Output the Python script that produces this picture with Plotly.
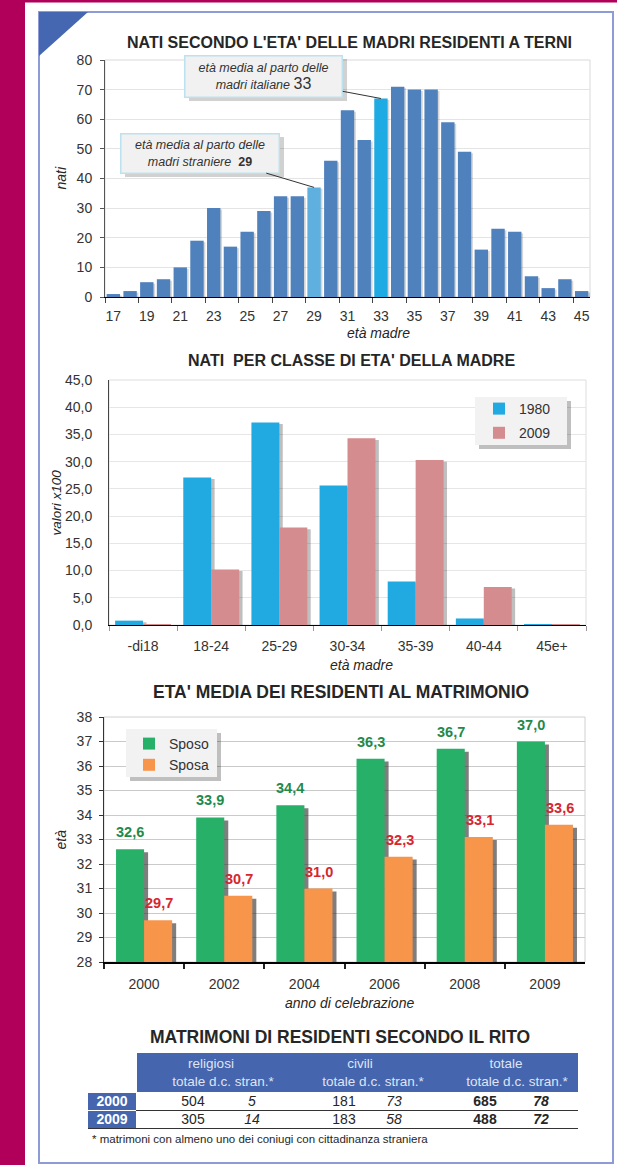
import plotly.graph_objects as go

W, H = 617, 1165
FONT = 'Arial, "Liberation Sans", sans-serif'

# ---------------- data ----------------
eta = list(range(17, 46))
nati = [1, 2, 5, 6, 10, 19, 30, 17, 22, 29, 34, 34, 37, 46, 63, 53, 67, 71, 70, 70,
        59, 49, 16, 23, 22, 7, 3, 6, 2]
eta_media_italiane = 33
eta_media_straniere = 29

classi = ["-di18", "18-24", "25-29", "30-34", "35-39", "40-44", "45e+"]
val_1980 = [0.8, 27.1, 37.2, 25.6, 8.0, 1.2, 0.1]
val_2009 = [0.1, 10.2, 17.9, 34.3, 30.3, 7.0, 0.1]

anni = ["2000", "2002", "2004", "2006", "2008", "2009"]
sposo = [32.6, 33.9, 34.4, 36.3, 36.7, 37.0]
sposa = [29.7, 30.7, 31.0, 32.3, 33.1, 33.6]

tab_gruppi = ["religiosi", "civili", "totale"]
tab_sub = ["totale", "d.c. stran.*"]
tab_anni = ["2000", "2009"]
rel_tot = [504, 305]
rel_str = [5, 14]
civ_tot = [181, 183]
civ_str = [73, 58]
tot_tot = [685, 488]
tot_str = [78, 72]

# ---------------- helpers ----------------
def px(x):
    return x / W


def py(y):
    return 1 - y / H


def fmt(v):
    return f"{v:.1f}".replace(".", ",")


fig = go.Figure()

# ---------------- chart 1 ----------------
c_main, c_str, c_ita = "#4f81bd", "#5fb0de", "#1eaae2"
cols1 = [c_ita if a == eta_media_italiane else c_str if a == eta_media_straniere else c_main for a in eta]
fig.add_trace(go.Bar(x=eta, y=[v - 0.5 for v in nati], width=0.8, offset=-0.3,
                     marker=dict(color="rgba(0,0,0,0.16)", line=dict(width=0)),
                     showlegend=False, hoverinfo="skip", xaxis="x", yaxis="y"))
fig.add_trace(go.Bar(x=eta, y=nati, width=0.8, offset=-0.4,
                     marker=dict(color=cols1, line=dict(width=0)),
                     showlegend=False, xaxis="x", yaxis="y"))

# ---------------- chart 2 ----------------
fig.add_trace(go.Bar(x=classi, y=[v - 0.3 for v in val_1980], width=0.41, offset=-0.36,
                     marker=dict(color="rgba(0,0,0,0.25)", line=dict(width=0)),
                     showlegend=False, hoverinfo="skip", xaxis="x2", yaxis="y2"))
fig.add_trace(go.Bar(x=classi, y=[v - 0.3 for v in val_2009], width=0.41, offset=0.05,
                     marker=dict(color="rgba(0,0,0,0.25)", line=dict(width=0)),
                     showlegend=False, hoverinfo="skip", xaxis="x2", yaxis="y2"))
fig.add_trace(go.Bar(x=classi, y=val_1980, width=0.41, offset=-0.41, name="1980",
                     marker=dict(color="#21a9e1", line=dict(width=0)),
                     legend="legend", legendgroup="a", xaxis="x2", yaxis="y2"))
fig.add_trace(go.Bar(x=classi, y=val_2009, width=0.41, offset=0.0, name="2009",
                     marker=dict(color="#d48c8e", line=dict(width=0)),
                     legend="legend", legendgroup="b", xaxis="x2", yaxis="y2"))

# ---------------- chart 3 ----------------
fig.add_trace(go.Bar(x=anni, y=[v - 0.12 for v in sposo], width=0.35, offset=-0.30,
                     marker=dict(color="rgba(40,40,40,0.6)", line=dict(width=0)),
                     showlegend=False, hoverinfo="skip", xaxis="x3", yaxis="y3"))
fig.add_trace(go.Bar(x=anni, y=[v - 0.12 for v in sposa], width=0.35, offset=0.05,
                     marker=dict(color="rgba(40,40,40,0.6)", line=dict(width=0)),
                     showlegend=False, hoverinfo="skip", xaxis="x3", yaxis="y3"))
fig.add_trace(go.Bar(x=anni, y=sposo, width=0.35, offset=-0.35, name="Sposo",
                     marker=dict(color="#27b168", line=dict(width=0)),
                     legend="legend2", legendgroup="c", xaxis="x3", yaxis="y3"))
fig.add_trace(go.Bar(x=anni, y=sposa, width=0.35, offset=0.0, name="Sposa",
                     marker=dict(color="#f7954b", line=dict(width=0)),
                     legend="legend2", legendgroup="d", xaxis="x3", yaxis="y3"))

# ---------------- table (hidden axis in pixel units) ----------------
GROUP_X = [211, 360, 506]
SUB_X = [223, 373, 517]
CELL_X = [193, 252, 344, 394, 485, 541]
ROW_Y = [1102, 1120]
LABEL_X = 112
GROUP_Y, SUB_Y = 1065, 1083

fig.add_trace(go.Scatter(x=GROUP_X, y=[GROUP_Y] * 3, text=tab_gruppi, mode="text",
                         textfont=dict(family=FONT, size=13.5, color="#dfe4f5"),
                         showlegend=False, xaxis="x4", yaxis="y4"))
fig.add_trace(go.Scatter(x=SUB_X, y=[SUB_Y] * 3, text=[" ".join(tab_sub)] * 3, mode="text",
                         textfont=dict(family=FONT, size=13.5, color="#dfe4f5"),
                         showlegend=False, xaxis="x4", yaxis="y4"))
fig.add_trace(go.Scatter(x=[LABEL_X] * 2, y=ROW_Y, text=[f"<b>{a}</b>" for a in tab_anni], mode="text",
                         textfont=dict(family=FONT, size=14, color="white"),
                         showlegend=False, xaxis="x4", yaxis="y4"))
cell_x, cell_y, cell_t = [], [], []
for r in range(2):
    vals = [str(rel_tot[r]), f"<i>{rel_str[r]}</i>", str(civ_tot[r]), f"<i>{civ_str[r]}</i>",
            f"<b>{tot_tot[r]}</b>", f"<b><i>{tot_str[r]}</i></b>"]
    for c, t in enumerate(vals):
        cell_x.append(CELL_X[c])
        cell_y.append(ROW_Y[r])
        cell_t.append(t)
fig.add_trace(go.Scatter(x=cell_x, y=cell_y, text=cell_t, mode="text",
                         textfont=dict(family=FONT, size=14, color="#262626"),
                         showlegend=False, xaxis="x4", yaxis="y4"))

# ---------------- shapes ----------------
shapes = []
# page decoration
shapes.append(dict(type="rect", xref="paper", yref="paper", x0=px(0), x1=px(25), y0=py(H), y1=py(0),
                   fillcolor="#b0005a", line=dict(width=0), layer="below"))
shapes.append(dict(type="rect", xref="paper", yref="paper", x0=px(0), x1=px(W), y0=py(2.5), y1=py(0),
                   fillcolor="#b0005a", line=dict(width=0), layer="below"))
shapes.append(dict(type="rect", xref="paper", yref="paper", x0=px(39), x1=px(613), y0=py(1163), y1=py(12),
                   line=dict(color="#8f9bd6", width=2), layer="below"))
shapes.append(dict(type="path", xref="paper", yref="paper",
                   path=f"M {px(39)},{py(12)} L {px(88)},{py(12)} L {px(39)},{py(56)} Z",
                   fillcolor="#4566b0", line=dict(width=0), layer="below"))
# plot borders
for ax, col in [("", "#d9d9d9"), ("2", "#dedede"), ("3", "#d0d0d0")]:
    shapes.append(dict(type="rect", xref=f"x{ax} domain", yref=f"y{ax} domain", x0=0, x1=1, y0=0, y1=1,
                       line=dict(color=col, width=1), layer="below"))
# annotation box shadows (chart 1)
for (x0, y0, x1, y1) in [(185, 55, 343, 97), (121, 133, 280, 173)]:
    shapes.append(dict(type="rect", xref="paper", yref="paper", x0=px(x0 + 4), x1=px(x1 + 4),
                       y0=py(y1 + 4), y1=py(y0 + 4), fillcolor="rgba(0,0,0,0.18)", line=dict(width=0),
                       layer="above"))
# legend boxes with shadows
for (x0, y0, x1, y1) in [(475, 397, 567, 445), (126, 729, 217, 777)]:
    shapes.append(dict(type="rect", xref="paper", yref="paper", x0=px(x0 + 4), x1=px(x1 + 4),
                       y0=py(y1 + 4), y1=py(y0 + 4), fillcolor="rgba(0,0,0,0.25)", line=dict(width=0),
                       layer="above"))
    shapes.append(dict(type="rect", xref="paper", yref="paper", x0=px(x0), x1=px(x1),
                       y0=py(y1), y1=py(y0), fillcolor="#f2f2f3", line=dict(width=0),
                       layer="above"))
# table shapes
shapes.append(dict(type="rect", xref="x4", yref="y4", x0=137, x1=578, y0=1053, y1=1092,
                   fillcolor="#4565ae", line=dict(width=0), layer="below"))
for (a, b) in [(1093, 1110), (1111, 1128)]:
    shapes.append(dict(type="rect", xref="x4", yref="y4", x0=88, x1=136, y0=a, y1=b,
                       fillcolor="#4565ae", line=dict(width=0), layer="below"))
shapes.append(dict(type="line", xref="x4", yref="y4", x0=136, x1=578, y0=1110.5, y1=1110.5,
                   line=dict(color="#333", width=1)))
shapes.append(dict(type="line", xref="x4", yref="y4", x0=88, x1=578, y0=1128.5, y1=1128.5,
                   line=dict(color="#333", width=1)))

# ---------------- annotations ----------------
ann = []
def title(text, x, y, size):
    ann.append(dict(text=f"<b>{text}</b>", x=px(x), y=py(y), xref="paper", yref="paper",
                    showarrow=False, xanchor="center", yanchor="middle",
                    font=dict(family=FONT, size=size, color="#262626")))

title("NATI SECONDO L'ETA' DELLE MADRI RESIDENTI A TERNI", 349, 43, 16)
title("NATI  PER CLASSE DI ETA' DELLA MADRE", 351, 360, 16)
title("ETA' MEDIA DEI RESIDENTI AL MATRIMONIO", 341, 692, 17.5)
title("MATRIMONI DI RESIDENTI SECONDO IL RITO", 340, 1037, 17.5)

def xtitle(text, ax, frac, shift, size=14):
    ann.append(dict(text=f"<i>{text}</i>", x=frac, y=0, xref=f"x{ax} domain", yref=f"y{ax} domain",
                    yshift=-shift, showarrow=False, xanchor="center", yanchor="middle",
                    font=dict(family=FONT, size=size, color="#262626")))

def ytitle(text, ax, shift, size=14):
    ann.append(dict(text=f"<i>{text}</i>", x=0, y=0.5, xref=f"x{ax} domain", yref=f"y{ax} domain",
                    xshift=-shift, showarrow=False, textangle=-90, xanchor="center", yanchor="middle",
                    font=dict(family=FONT, size=size, color="#262626")))

xtitle("età madre", "", 0.563, 36)
xtitle("età madre", "2", 0.53, 40)
xtitle("anno di celebrazione", "3", 0.51, 41)
ytitle("nati", "", 45)
ytitle("valori x100", "2", 53, 13.5)
ytitle("età", "3", 44)

# callouts chart 1
y_ita = nati[eta.index(eta_media_italiane)]
y_str = nati[eta.index(eta_media_straniere)]
ann.append(dict(x=eta_media_italiane, y=y_ita, xref="x", yref="y", ax=-117, ay=-22,
                text=f"<i>età media al parto delle</i><br><i>madri italiane</i> <span style='font-size:16px'>{eta_media_italiane}</span>",
                showarrow=True, arrowhead=0, arrowwidth=1, arrowcolor="#333", standoff=0,
                bgcolor="#f1f1f1", bordercolor="#bde2ef", borderwidth=1.5, borderpad=2,
                width=152, height=36, align="center",
                font=dict(family=FONT, size=12.5, color="#333")))
ann.append(dict(x=eta_media_straniere, y=y_str, xref="x", yref="y", ax=-114, ay=-34,
                text=f"<i>età media al parto delle</i><br><i>madri straniere</i>  <b>{eta_media_straniere}</b>",
                showarrow=True, arrowhead=0, arrowwidth=1, arrowcolor="#333", standoff=0,
                bgcolor="#f1f1f1", bordercolor="#bde2ef", borderwidth=1.5, borderpad=2,
                width=153, height=34, align="center",
                font=dict(family=FONT, size=12.5, color="#333")))

# data labels chart 3 (category index positions)
for vals, shift, col in [(sposo, -14, "#1f8a4a"), (sposa, 15, "#d6262e")]:
    for i, v in enumerate(vals):
        ann.append(dict(x=i, y=v, xref="x3", yref="y3", xshift=shift, yshift=7, text=f"<b>{fmt(v)}</b>",
                        showarrow=False, xanchor="center", yanchor="bottom",
                        font=dict(family=FONT, size=14.5, color=col)))

# footnote
ann.append(dict(x=90, y=1139, xref="x4", yref="y4", text="* matrimoni con almeno uno dei coniugi con cittadinanza straniera",
                showarrow=False, xanchor="left", yanchor="middle",
                font=dict(family=FONT, size=11.5, color="#262626")))

tickfont = dict(family=FONT, size=14, color="#333")

fig.update_layout(
    width=W, height=H, margin=dict(l=0, r=0, t=0, b=0),
    paper_bgcolor="white", plot_bgcolor="rgba(0,0,0,0)",
    barmode="overlay", separators=",.",
    font=dict(family=FONT, color="#262626"),
    shapes=shapes, annotations=ann,
    xaxis=dict(domain=[px(105), px(590)], anchor="y", range=[16.5, 45.5], tickmode="array",
               tickvals=[a for a in eta if a % 2 == 1], ticks="", showline=True, linecolor="black",
               linewidth=1, showgrid=False, zeroline=False, tickfont=tickfont, automargin=False,
               ticklabelstandoff=6,
               minor=dict(tickmode="linear", tick0=16.5, dtick=2, ticks="outside", ticklen=5,
                          tickcolor="#444", showgrid=False)),
    yaxis=dict(domain=[py(297), py(60)], anchor="x", range=[0, 80], dtick=10, showgrid=True,
               gridcolor="#e4e4e4", showline=True, linecolor="#555", ticks="outside", ticklen=4,
               tickcolor="#555", zeroline=False, tickfont=tickfont, automargin=False, ticklabelstandoff=5),
    xaxis2=dict(domain=[px(109), px(586)], anchor="y2", range=[-0.5, 6.5], type="category",
                tickson="boundaries", ticks="outside", ticklen=5, tickcolor="#999", showline=True,
                linecolor="black", showgrid=False, tickfont=tickfont, automargin=False,
                ticklabelstandoff=8),
    yaxis2=dict(domain=[py(625), py(380)], anchor="x2", range=[0, 45], dtick=5, tickformat=".1f",
                showgrid=True, gridcolor="#e6e6e6", showline=True, linecolor="#444", ticks="",
                zeroline=False, tickfont=tickfont, automargin=False, ticklabelstandoff=13),
    xaxis3=dict(domain=[px(104), px(585)], anchor="y3", range=[-0.5, 5.5], type="category",
                tickson="boundaries", ticks="outside", ticklen=5, tickwidth=2, tickcolor="#222",
                showline=True, linecolor="black", linewidth=2, showgrid=False, tickfont=tickfont,
                automargin=False, ticklabelstandoff=8),
    yaxis3=dict(domain=[py(962), py(717)], anchor="x3", range=[28, 38], dtick=1, showgrid=True,
                gridcolor="#cacaca", showline=True, linecolor="#333", ticks="outside", ticklen=4,
                tickcolor="#333", zeroline=False, tickfont=tickfont, automargin=False, ticklabelstandoff=4),
    xaxis4=dict(domain=[px(80), px(590)], anchor="y4", range=[80, 590], visible=False, fixedrange=True),
    yaxis4=dict(domain=[py(1160), py(1025)], anchor="x4", range=[1160, 1025], visible=False,
                fixedrange=True),
    legend=dict(x=px(479), y=py(393), xanchor="left", yanchor="top", bgcolor="rgba(0,0,0,0)",
                borderwidth=0, font=dict(family=FONT, size=14, color="#333"), tracegroupgap=3,
                itemclick=False),
    legend2=dict(x=px(129), y=py(728), xanchor="left", yanchor="top", bgcolor="rgba(0,0,0,0)",
                 borderwidth=0, font=dict(family=FONT, size=14, color="#333"), tracegroupgap=0,
                 itemclick=False),
)

fig.write_html("out.html", config={"displayModeBar": False},
               post_script="document.body.style.margin='0';document.body.style.overflow='hidden';")
